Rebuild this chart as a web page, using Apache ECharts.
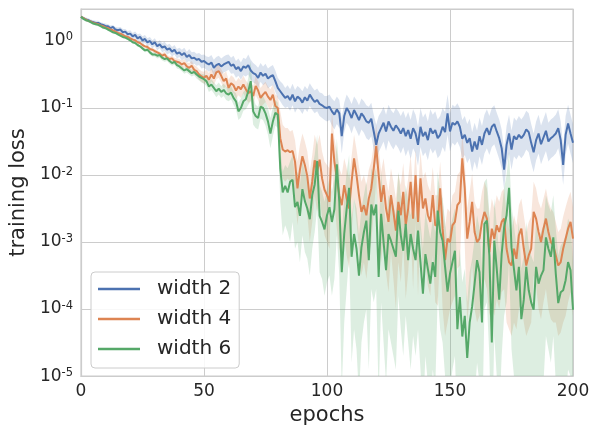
<!DOCTYPE html>
<html><head><meta charset="utf-8">
<script src="https://cdn.jsdelivr.net/npm/echarts@6/dist/echarts.min.js"></script>
<style>html,body{margin:0;padding:0;background:#fff}#c{width:593px;height:431px}</style>
</head><body><div id="c"></div>
<script>
// All loss values below are log10(training loss), one per epoch 0..200
const xTicks = [0, 50, 100, 150, 200];
const seriesNames = ['width 2', 'width 4', 'width 6'];

const width2Log = [
0.36,0.34,0.32,0.31,0.29,0.28,0.27,0.27,0.25,0.24,
0.22,0.22,0.19,0.21,0.17,0.16,0.17,0.13,0.14,0.10,
0.11,0.07,0.09,0.04,0.06,0.01,0.03,-0.02,0.00,-0.05,
-0.02,-0.08,-0.05,-0.10,-0.08,-0.13,-0.11,-0.16,-0.13,-0.19,
-0.17,-0.21,-0.18,-0.24,-0.21,-0.26,-0.25,-0.28,-0.27,-0.31,
-0.30,-0.33,-0.35,-0.32,-0.40,-0.36,-0.34,-0.38,-0.35,-0.33,
-0.31,-0.37,-0.35,-0.42,-0.39,-0.45,-0.38,-0.40,-0.36,-0.44,
-0.48,-0.50,-0.55,-0.47,-0.52,-0.49,-0.56,-0.53,-0.51,-0.60,
-0.70,-0.75,-0.80,-0.85,-0.82,-0.88,-0.80,-0.90,-0.83,-0.86,
-0.92,-0.84,-0.89,-0.80,-0.86,-0.91,-0.88,-0.94,-0.96,-0.99,
-1.00,-0.98,-1.05,-1.10,-1.02,-1.08,-1.42,-1.12,-1.00,-1.06,
-1.15,-1.03,-1.10,-1.18,-1.08,-1.13,-1.20,-1.22,-1.16,-1.35,
-1.55,-1.38,-1.30,-1.22,-1.35,-1.20,-1.28,-1.34,-1.26,-1.31,
-1.38,-1.30,-1.42,-1.33,-1.46,-1.30,-1.38,-1.55,-1.28,-1.42,
-1.36,-1.48,-1.30,-1.38,-1.33,-1.45,-1.40,-1.28,-1.36,-1.08,
-1.35,-1.22,-1.25,-1.20,-1.28,-1.46,-1.40,-1.52,-1.45,-1.65,
-1.50,-1.62,-1.42,-1.55,-1.38,-1.30,-1.40,-1.28,-1.24,-1.35,
-1.45,-1.60,-1.92,-1.55,-1.38,-1.62,-1.42,-1.47,-1.40,-1.45,
-1.40,-1.32,-1.36,-1.52,-1.66,-1.48,-1.38,-1.54,-1.44,-1.34,
-1.50,-1.45,-1.42,-1.38,-1.30,-1.48,-1.85,-1.40,-1.23,-1.38,
-1.52];
const width2HiLog = [
0.38,0.36,0.35,0.34,0.32,0.31,0.30,0.30,0.28,0.27,
0.26,0.25,0.23,0.24,0.21,0.20,0.21,0.18,0.18,0.15,
0.16,0.12,0.14,0.10,0.11,0.07,0.09,0.04,0.06,0.01,
0.04,-0.02,0.01,-0.03,-0.01,-0.06,-0.04,-0.09,-0.06,-0.12,
-0.10,-0.13,-0.10,-0.16,-0.12,-0.17,-0.16,-0.19,-0.18,-0.21,
-0.20,-0.23,-0.24,-0.21,-0.28,-0.24,-0.22,-0.26,-0.23,-0.21,
-0.20,-0.25,-0.22,-0.30,-0.26,-0.32,-0.25,-0.27,-0.20,-0.28,
-0.33,-0.36,-0.40,-0.33,-0.38,-0.34,-0.41,-0.38,-0.36,-0.44,
-0.55,-0.60,-0.64,-0.70,-0.66,-0.72,-0.64,-0.73,-0.67,-0.70,
-0.75,-0.67,-0.72,-0.63,-0.69,-0.74,-0.71,-0.77,-0.78,-0.82,
-0.82,-0.80,-0.86,-0.90,-0.83,-0.88,-1.15,-0.92,-0.80,-0.86,
-0.94,-0.83,-0.88,-0.96,-0.86,-0.90,-0.96,-0.98,-0.92,-1.10,
-1.25,-1.12,-1.06,-0.98,-1.10,-0.95,-1.03,-1.08,-1.00,-1.05,
-1.12,-1.04,-1.15,-1.06,-1.18,-1.02,-1.10,-1.28,-1.00,-1.14,
-1.08,-1.20,-1.02,-1.10,-1.05,-1.17,-1.12,-1.00,-1.06,-0.80,
-1.08,-0.95,-0.98,-0.93,-1.00,-1.18,-1.12,-1.24,-1.16,-1.36,
-1.22,-1.34,-1.14,-1.27,-1.10,-1.02,-1.12,-1.00,-0.96,-1.07,
-1.17,-1.32,-1.62,-1.27,-1.10,-1.34,-1.14,-1.19,-1.12,-1.17,
-1.12,-1.04,-1.08,-1.24,-1.38,-1.20,-1.10,-1.26,-1.16,-1.06,
-1.22,-1.17,-1.14,-1.10,-1.02,-1.20,-1.57,-1.12,-0.95,-1.10,
-1.24];
const width2LoLog = [
0.34,0.32,0.29,0.28,0.26,0.25,0.24,0.24,0.22,0.21,
0.18,0.19,0.15,0.18,0.13,0.12,0.13,0.08,0.10,0.05,
0.06,0.02,0.04,-0.02,0.01,-0.05,-0.03,-0.08,-0.06,-0.11,
-0.08,-0.14,-0.11,-0.17,-0.15,-0.20,-0.18,-0.23,-0.20,-0.26,
-0.24,-0.29,-0.26,-0.32,-0.30,-0.35,-0.34,-0.37,-0.36,-0.41,
-0.40,-0.43,-0.46,-0.43,-0.52,-0.48,-0.46,-0.50,-0.47,-0.45,
-0.43,-0.49,-0.48,-0.55,-0.52,-0.58,-0.51,-0.53,-0.50,-0.58,
-0.62,-0.64,-0.70,-0.61,-0.66,-0.63,-0.71,-0.68,-0.66,-0.76,
-0.85,-0.90,-0.96,-1.00,-0.98,-1.04,-0.96,-1.07,-1.00,-1.03,
-1.09,-1.01,-1.06,-0.97,-1.03,-1.08,-1.05,-1.12,-1.15,-1.18,
-1.20,-1.18,-1.26,-1.32,-1.24,-1.30,-1.68,-1.36,-1.22,-1.28,
-1.38,-1.26,-1.34,-1.42,-1.32,-1.37,-1.45,-1.48,-1.42,-1.62,
-1.85,-1.66,-1.58,-1.50,-1.64,-1.48,-1.56,-1.62,-1.54,-1.60,
-1.68,-1.58,-1.72,-1.62,-1.76,-1.60,-1.68,-1.86,-1.58,-1.72,
-1.66,-1.78,-1.60,-1.68,-1.62,-1.75,-1.70,-1.58,-1.66,-1.40,
-1.65,-1.52,-1.56,-1.50,-1.58,-1.76,-1.70,-1.82,-1.75,-1.95,
-1.80,-1.92,-1.72,-1.85,-1.68,-1.60,-1.70,-1.58,-1.54,-1.65,
-1.76,-1.90,-2.22,-1.85,-1.68,-1.92,-1.72,-1.77,-1.70,-1.75,
-1.70,-1.62,-1.66,-1.82,-1.96,-1.78,-1.68,-1.84,-1.74,-1.64,
-1.80,-1.75,-1.72,-1.68,-1.60,-1.78,-2.15,-1.70,-1.53,-1.68,
-1.82];

const width4Log = [
0.36,0.34,0.32,0.30,0.29,0.27,0.26,0.25,0.23,0.22,
0.20,0.19,0.17,0.16,0.14,0.12,0.11,0.09,0.07,0.06,
0.04,0.02,0.01,-0.02,-0.03,-0.06,-0.08,-0.09,-0.12,-0.13,
-0.15,-0.17,-0.19,-0.22,-0.20,-0.25,-0.27,-0.26,-0.30,-0.31,
-0.32,-0.35,-0.33,-0.38,-0.40,-0.37,-0.43,-0.45,-0.50,-0.53,
-0.55,-0.52,-0.58,-0.50,-0.56,-0.47,-0.45,-0.52,-0.60,-0.56,
-0.70,-0.63,-0.66,-0.74,-0.68,-0.72,-0.65,-0.72,-0.78,-0.75,
-0.82,-0.67,-0.74,-0.85,-0.80,-0.76,-0.83,-0.88,-0.80,-0.97,
-1.00,-1.45,-1.62,-1.65,-1.63,-1.66,-1.64,-1.80,-2.20,-1.92,
-1.72,-1.85,-2.02,-2.35,-2.10,-1.78,-1.95,-1.77,-2.05,-2.22,
-2.30,-2.40,-1.38,-1.80,-2.05,-2.30,-2.45,-2.15,-2.35,-2.50,
-2.10,-1.75,-2.00,-2.30,-2.55,-2.45,-2.60,-2.35,-2.20,-1.90,
-1.57,-2.00,-2.40,-2.15,-2.50,-2.70,-2.30,-2.55,-2.83,-2.40,
-2.60,-2.25,-2.75,-2.50,-2.10,-2.65,-2.00,-2.70,-2.05,-2.50,
-2.35,-2.60,-2.70,-2.30,-2.75,-2.75,-2.20,-2.80,-3.27,-2.95,
-3.00,-2.75,-2.70,-2.45,-2.40,-1.75,-2.20,-2.95,-2.70,-2.40,
-2.85,-3.00,-2.95,-2.70,-2.55,-2.65,-3.15,-2.80,-2.95,-2.75,
-2.85,-2.70,-2.65,-3.10,-3.30,-3.35,-3.10,-3.25,-2.90,-2.80,
-3.10,-3.35,-3.20,-3.10,-2.55,-2.65,-2.85,-3.00,-2.80,-2.65,
-2.85,-3.00,-3.05,-3.20,-3.35,-3.30,-3.10,-2.95,-2.80,-2.70,
-2.95];
const width4HiLog = [
0.38,0.36,0.34,0.32,0.31,0.29,0.28,0.27,0.25,0.24,
0.22,0.21,0.19,0.18,0.16,0.14,0.13,0.11,0.09,0.08,
0.06,0.04,0.03,0.00,-0.01,-0.04,-0.06,-0.06,-0.09,-0.10,
-0.12,-0.14,-0.16,-0.18,-0.16,-0.21,-0.23,-0.22,-0.25,-0.26,
-0.27,-0.29,-0.27,-0.32,-0.33,-0.30,-0.36,-0.38,-0.42,-0.45,
-0.46,-0.43,-0.48,-0.40,-0.46,-0.37,-0.35,-0.42,-0.49,-0.45,
-0.58,-0.51,-0.54,-0.61,-0.55,-0.59,-0.52,-0.59,-0.64,-0.61,
-0.67,-0.53,-0.60,-0.70,-0.65,-0.61,-0.68,-0.72,-0.65,-0.80,
-0.82,-1.05,-1.25,-1.30,-1.30,-1.35,-1.33,-1.48,-1.80,-1.55,
-1.38,-1.50,-1.65,-1.95,-1.70,-1.40,-1.55,-1.40,-1.65,-1.80,
-1.85,-1.90,-1.05,-1.45,-1.65,-1.90,-2.00,-1.75,-1.90,-2.05,
-1.72,-1.40,-1.62,-1.88,-2.10,-2.00,-2.15,-1.92,-1.80,-1.55,
-1.25,-1.60,-1.95,-1.75,-2.05,-2.25,-1.90,-2.10,-2.35,-1.98,
-2.15,-1.82,-2.30,-2.05,-1.70,-2.20,-1.62,-2.25,-1.65,-2.05,
-1.95,-2.15,-2.25,-1.88,-2.30,-2.30,-1.80,-2.35,-2.78,-2.50,
-2.55,-2.30,-2.25,-2.00,-1.95,-1.38,-1.80,-2.50,-2.25,-1.98,
-2.40,-2.50,-2.50,-2.25,-2.10,-2.20,-2.65,-2.35,-2.50,-2.30,
-2.40,-2.25,-2.20,-2.60,-2.80,-2.85,-2.60,-2.75,-2.45,-2.35,
-2.60,-2.85,-2.70,-2.62,-2.10,-2.20,-2.40,-2.50,-2.35,-2.20,
-2.40,-2.50,-2.55,-2.70,-2.85,-2.80,-2.62,-2.48,-2.35,-2.25,
-2.48];
const width4LoLog = [
0.34,0.32,0.30,0.28,0.27,0.25,0.24,0.23,0.21,0.20,
0.18,0.17,0.15,0.14,0.12,0.10,0.09,0.07,0.05,0.04,
0.02,0.00,-0.01,-0.04,-0.05,-0.08,-0.10,-0.12,-0.15,-0.16,
-0.18,-0.20,-0.22,-0.26,-0.24,-0.29,-0.31,-0.30,-0.35,-0.36,
-0.37,-0.41,-0.39,-0.44,-0.47,-0.44,-0.50,-0.52,-0.58,-0.61,
-0.64,-0.61,-0.68,-0.60,-0.66,-0.57,-0.55,-0.62,-0.71,-0.67,
-0.82,-0.75,-0.78,-0.87,-0.81,-0.85,-0.78,-0.85,-0.92,-0.89,
-0.97,-0.81,-0.88,-1.00,-0.95,-0.91,-0.98,-1.04,-0.95,-1.14,
-1.20,-1.85,-2.05,-2.10,-2.05,-2.10,-2.08,-2.30,-2.75,-2.40,
-2.20,-2.40,-2.60,-3.00,-2.70,-2.30,-2.55,-2.30,-2.65,-2.90,
-3.00,-3.10,-1.90,-2.40,-2.80,-3.10,-3.30,-2.90,-3.20,-3.40,
-2.85,-2.35,-2.70,-3.10,-3.50,-3.30,-3.55,-3.20,-3.00,-2.55,
-2.10,-2.70,-3.30,-2.95,-3.45,-3.75,-3.15,-3.55,-4.00,-3.30,
-3.60,-3.05,-3.85,-3.45,-2.85,-3.70,-2.70,-3.80,-2.80,-3.50,
-3.30,-3.65,-3.80,-3.20,-3.90,-3.95,-3.10,-4.00,-4.40,-4.20,
-4.00,-3.90,-3.80,-3.40,-3.35,-2.30,-3.05,-4.20,-3.80,-3.30,
-4.00,-4.20,-4.10,-3.80,-3.55,-3.70,-4.10,-3.95,-4.10,-3.85,
-4.00,-3.75,-3.70,-4.20,-4.30,-4.40,-4.20,-4.30,-4.00,-3.90,
-4.20,-4.40,-4.30,-4.20,-3.50,-3.65,-4.00,-4.15,-3.90,-3.70,
-4.00,-4.15,-4.20,-4.20,-4.40,-4.35,-4.20,-4.10,-3.90,-3.75,
-4.10];

const width6Log = [
0.36,0.33,0.31,0.30,0.28,0.26,0.25,0.24,0.22,0.20,
0.19,0.17,0.15,0.13,0.12,0.10,0.08,0.06,0.05,0.03,
0.01,-0.02,-0.03,-0.06,-0.08,-0.11,-0.14,-0.13,-0.17,-0.20,
-0.20,-0.22,-0.21,-0.25,-0.27,-0.26,-0.30,-0.33,-0.31,-0.36,
-0.38,-0.41,-0.44,-0.42,-0.45,-0.48,-0.46,-0.50,-0.53,-0.55,
-0.57,-0.60,-0.68,-0.65,-0.70,-0.75,-0.71,-0.76,-0.73,-0.78,
-0.80,-0.77,-0.85,-0.90,-1.05,-1.00,-0.90,-0.87,-0.75,-0.60,
-1.05,-1.12,-1.15,-0.98,-1.00,-1.08,-1.20,-1.38,-1.20,-1.07,
-1.10,-1.90,-2.26,-2.16,-2.26,-2.10,-2.07,-2.48,-2.40,-2.61,
-2.21,-2.39,-2.50,-2.66,-2.30,-2.14,-1.79,-2.61,-2.70,-2.81,
-2.60,-2.48,-2.70,-2.51,-1.84,-2.40,-3.45,-2.88,-2.50,-2.19,
-3.22,-2.88,-3.10,-3.50,-3.08,-2.85,-2.68,-3.27,-2.44,-2.60,
-2.44,-3.52,-2.58,-3.00,-3.42,-2.88,-2.98,-3.10,-3.22,-2.53,
-2.90,-3.13,-2.73,-3.27,-2.88,-3.10,-3.27,-2.83,-3.30,-3.77,
-3.18,-3.40,-3.62,-3.30,-3.52,-2.53,-2.85,-2.98,-3.37,-3.74,
-3.47,-3.30,-3.13,-4.30,-3.82,-4.41,-4.10,-4.73,-4.20,-3.96,
-3.62,-3.27,-3.45,-4.20,-2.73,-2.68,-3.20,-4.50,-2.98,-3.40,
-3.86,-3.18,-2.78,-2.60,-2.19,-3.08,-3.40,-3.72,-3.37,-4.15,
-3.86,-3.37,-3.72,-3.90,-4.01,-3.37,-3.62,-3.50,-3.42,-2.93,
-3.10,-3.22,-2.93,-3.47,-3.91,-3.75,-3.72,-3.57,-3.30,-3.42,
-4.01];
const width6HiLog = [
0.38,0.35,0.33,0.32,0.30,0.28,0.27,0.26,0.24,0.22,
0.21,0.19,0.17,0.15,0.14,0.12,0.10,0.08,0.07,0.05,
0.03,0.00,-0.01,-0.04,-0.06,-0.08,-0.11,-0.10,-0.14,-0.17,
-0.17,-0.19,-0.18,-0.22,-0.24,-0.23,-0.27,-0.30,-0.28,-0.32,
-0.34,-0.37,-0.40,-0.38,-0.41,-0.43,-0.41,-0.45,-0.48,-0.49,
-0.50,-0.53,-0.60,-0.57,-0.62,-0.66,-0.62,-0.67,-0.64,-0.68,
-0.70,-0.67,-0.75,-0.78,-0.92,-0.86,-0.76,-0.72,-0.55,-0.30,
-0.85,-0.95,-0.98,-0.80,-0.82,-0.90,-1.00,-1.15,-0.98,-0.88,
-0.92,-1.60,-1.95,-1.85,-1.90,-1.80,-1.70,-2.05,-1.95,-2.15,
-1.80,-1.95,-2.05,-2.25,-1.90,-1.70,-1.40,-2.15,-2.25,-2.40,
-2.20,-2.05,-2.25,-2.05,-1.45,-1.95,-2.90,-2.35,-1.95,-1.70,
-2.65,-2.35,-2.50,-2.90,-2.50,-2.30,-2.10,-2.65,-1.90,-2.00,
-1.90,-2.85,-1.95,-2.40,-2.75,-2.30,-2.40,-2.45,-2.60,-1.95,
-2.30,-2.50,-2.15,-2.40,-2.60,-2.45,-2.65,-2.25,-2.70,-3.10,
-2.55,-2.75,-2.95,-2.65,-2.85,-1.95,-2.25,-2.35,-2.70,-3.05,
-2.80,-2.65,-2.50,-3.55,-3.10,-3.60,-3.40,-3.90,-3.45,-3.25,
-2.95,-2.60,-2.80,-3.40,-2.10,-2.05,-2.55,-3.60,-2.35,-2.75,
-3.15,-2.55,-2.20,-2.00,-1.65,-2.45,-2.75,-3.05,-2.70,-3.40,
-3.20,-2.70,-3.05,-3.20,-3.30,-2.70,-2.95,-2.85,-2.75,-2.30,
-2.45,-2.55,-2.30,-2.80,-3.20,-3.05,-3.00,-2.90,-2.65,-2.75,
-3.30];
const width6LoLog = [
0.34,0.31,0.29,0.28,0.26,0.24,0.23,0.22,0.20,0.18,
0.17,0.15,0.13,0.11,0.10,0.08,0.06,0.04,0.03,0.01,
-0.01,-0.04,-0.05,-0.08,-0.10,-0.14,-0.17,-0.16,-0.20,-0.23,
-0.23,-0.26,-0.25,-0.29,-0.31,-0.30,-0.34,-0.37,-0.35,-0.41,
-0.42,-0.45,-0.49,-0.47,-0.50,-0.53,-0.51,-0.56,-0.59,-0.62,
-0.64,-0.67,-0.76,-0.73,-0.78,-0.84,-0.80,-0.85,-0.82,-0.88,
-0.90,-0.87,-0.95,-1.02,-1.18,-1.14,-1.04,-1.02,-0.95,-0.90,
-1.25,-1.30,-1.32,-1.16,-1.18,-1.26,-1.40,-1.60,-1.42,-1.26,
-1.30,-2.40,-2.90,-2.75,-2.85,-3.00,-2.70,-3.10,-3.00,-3.30,
-2.90,-3.15,-3.25,-3.50,-3.10,-2.85,-2.50,-3.45,-3.55,-3.80,
-3.60,-3.50,-3.80,-3.55,-2.90,-3.50,-5.20,-4.20,-3.70,-3.20,
-4.80,-4.30,-4.60,-5.30,-4.50,-4.20,-4.00,-4.90,-3.70,-3.90,
-3.70,-5.30,-3.90,-4.50,-5.10,-4.30,-4.50,-4.70,-4.90,-3.80,
-4.30,-4.70,-4.10,-4.50,-4.90,-4.40,-4.70,-4.30,-4.90,-5.60,
-4.70,-5.10,-5.40,-4.90,-5.20,-3.80,-4.30,-4.50,-5.00,-5.50,
-5.20,-4.90,-4.70,-5.80,-5.60,-6.00,-5.80,-6.50,-5.90,-5.60,
-5.30,-4.80,-5.10,-6.00,-4.00,-3.90,-4.70,-6.20,-4.40,-5.00,
-5.60,-4.70,-4.10,-3.90,-3.30,-4.60,-5.00,-5.50,-5.00,-5.90,
-5.60,-5.00,-5.40,-5.70,-5.80,-5.00,-5.30,-5.20,-5.10,-4.40,
-4.60,-4.80,-4.40,-5.10,-5.60,-5.50,-5.40,-5.30,-4.90,-5.00,
-5.70];

const colors = ['#4C72B0', '#DD8452', '#55A868'];
const bandColors = ['rgba(76,114,176,0.2)', 'rgba(221,132,82,0.2)', 'rgba(85,168,104,0.2)'];
const FONT = 'DejaVu Sans';

const means = [width2Log, width4Log, width6Log];
const his = [width2HiLog, width4HiLog, width6HiLog];
const los = [width2LoLog, width4LoLog, width6LoLog];

const toPairs = arr => arr.map((e, i) => [i, Math.pow(10, e)]);

const series = [];
for (let k = 0; k < 3; k++) {
  const bandData = his[k].map((e, i) => [i, Math.pow(10, los[k][i]), Math.pow(10, e)]);
  series.push({
    type: 'custom', name: '_band' + k, data: bandData, silent: true, z: 1, clip: true,
    encode: { x: 0, y: [1, 2] },
    renderItem: (params, api) => {
      if (params.dataIndexInside !== 0) return null;
      const n = params.dataInsideLength;
      const up = [], dn = [];
      for (let j = 0; j < n; j++) {
        const x = api.value(0, j);
        up.push(api.coord([x, api.value(2, j)]));
        dn.push(api.coord([x, api.value(1, j)]));
      }
      const pts = up.concat(dn.reverse());
      return {
        type: 'polygon', shape: { points: pts },
        style: { fill: bandColors[k], stroke: null },
        clipPath: { type: 'rect', shape: { x: params.coordSys.x, y: params.coordSys.y, width: params.coordSys.width, height: params.coordSys.height } }
      };
    }
  });
}
for (let k = 0; k < 3; k++) {
  series.push({
    type: 'line', name: seriesNames[k], data: toPairs(means[k]),
    symbol: 'none', color: colors[k], lineStyle: { color: colors[k], width: 2 },
    z: 3, animation: false
  });
}

const chart = echarts.init(document.getElementById('c'), null, { renderer: 'canvas' });
chart.setOption({
  backgroundColor: '#ffffff',
  animation: false,
  grid: { left: 81, right: 20, top: 9, bottom: 52, show: true, borderColor: '#cccccc', borderWidth: 1.2, backgroundColor: 'transparent' },
  legend: {
    data: seriesNames, orient: 'vertical', left: 91, top: 272,
    icon: 'rect', itemWidth: 42, itemHeight: 2.5, itemGap: 10,
    backgroundColor: 'rgba(255,255,255,0.85)', borderColor: '#cccccc', borderWidth: 1, borderRadius: 4,
    padding: [7, 8, 9, 7],
    textStyle: { fontFamily: FONT, fontSize: 20, lineHeight: 20, color: '#262626', padding: [0, 0, 0, 12] }
  },
  xAxis: {
    type: 'value', min: 0, max: 200, interval: 50,
    name: 'epochs', nameLocation: 'middle', nameGap: 27,
    nameTextStyle: { fontFamily: FONT, fontSize: 21, color: '#262626' },
    axisLine: { show: true, lineStyle: { color: '#cccccc', width: 1.2 } },
    axisTick: { show: false },
    axisLabel: { fontFamily: FONT, fontSize: 17, color: '#262626', margin: 7,
      formatter: v => xTicks.indexOf(v) >= 0 ? String(v) : '' },
    splitLine: { show: true, lineStyle: { color: '#cccccc', width: 1 } }
  },
  yAxis: {
    type: 'log', logBase: 10, min: 1e-5, max: 3,
    name: 'training loss', nameLocation: 'middle', nameGap: 42,
    nameTextStyle: { fontFamily: FONT, fontSize: 21, color: '#262626' },
    axisLine: { show: true, lineStyle: { color: '#cccccc', width: 1.2 } },
    axisTick: { show: false },
    axisLabel: {
      margin: 8, color: '#262626',
      formatter: v => {
        const l = Math.log10(v), e = Math.round(l);
        if (Math.abs(l - e) > 1e-6) return '';
        return '{b|10}{s|' + (e < 0 ? '-' : '') + Math.abs(e) + '}';
      },
      rich: {
        b: { fontFamily: FONT, fontSize: 17, lineHeight: 19, color: '#262626' },
        s: { fontFamily: FONT, fontSize: 11.5, lineHeight: 11.5, verticalAlign: 'top', color: '#262626' }
      }
    },
    splitLine: { show: true, lineStyle: { color: '#cccccc', width: 1 } }
  },
  series: series
});
</script>
</body></html>
